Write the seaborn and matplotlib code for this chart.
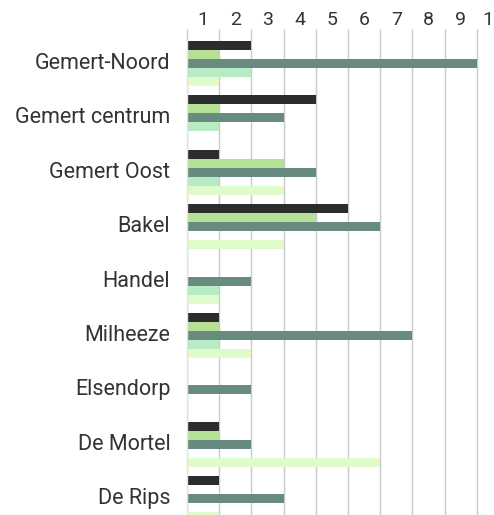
import matplotlib
matplotlib.use("Agg")
import matplotlib.pyplot as plt
import matplotlib.transforms as mtransforms
import seaborn as sns
import pandas as pd

categories = ["Gemert-Noord", "Gemert centrum", "Gemert Oost", "Bakel", "Handel",
              "Milheeze", "Elsendorp", "De Mortel", "De Rips"]
series_names = ["Reeks 1", "Reeks 2", "Reeks 3", "Reeks 4", "Reeks 5"]
reeks1 = [2, 4, 1, 5, 0, 1, 0, 1, 1]
reeks2 = [1, 1, 3, 4, 0, 1, 0, 1, 0]
reeks3 = [9, 3, 4, 6, 2, 7, 2, 2, 3]
reeks4 = [2, 1, 1, 0, 1, 1, 0, 0, 0]
reeks5 = [1, 0, 3, 3, 1, 2, 0, 6, 1]
tick_values = [1, 2, 3, 4, 5, 6, 7, 8, 9, 10]
tick_labels = ["1", "2", "3", "4", "5", "6", "7", "8", "9", "10"]
colors = ["#2b2d2c", "#b6e096", "#678b7e", "#b6ebc3", "#e0fbcb"]

rows = []
for name, vals in zip(series_names, [reeks1, reeks2, reeks3, reeks4, reeks5]):
    for c, v in zip(categories, vals):
        rows.append({"wijk": c, "reeks": name, "waarde": v})
df = pd.DataFrame(rows)

sns.set_style("white")
plt.rcParams["font.family"] = ["Roboto", "DejaVu Sans"]

W, H = 494, 515
fig = plt.figure(figsize=(W / 100, H / 100), dpi=100)
top_px, pitch = 40, 54.4
ytop = -0.432
ybot = 8.6
ax_h = (ybot - ytop) * pitch
left_px, unit = 187, 32.2
ax = fig.add_axes([left_px / W, 1 - (top_px + ax_h) / H, 10 * unit / W, ax_h / H])

sns.barplot(data=df, y="wijk", x="waarde", hue="reeks", order=categories,
            hue_order=series_names, palette=colors, orient="h", width=0.83,
            linewidth=0, saturation=1, legend=False, ax=ax, errorbar=None)

ax.set_xlim(0, 10)
ax.set_ylim(ybot, ytop)
ax.set_xlabel("")
ax.set_ylabel("")

gridc = "#c9c9c9"
ax.set_xticks([0] + tick_values)
ax.set_xticklabels([])
ax.set_xticks([v - 0.5 for v in tick_values], minor=True)
ax.set_xticklabels(tick_labels, minor=True)
ax.xaxis.tick_top()
ax.tick_params(axis="x", which="major", length=8, color=gridc, width=1, top=True, bottom=False)
ax.tick_params(axis="x", which="minor", length=0, pad=7.7, labelsize=14, labelcolor="#333333",
               top=True, bottom=False, labeltop=True, labelbottom=False)
ax.grid(axis="x", which="major", color=gridc, linewidth=1)
ax.set_axisbelow(True)
ax.tick_params(axis="y", length=0, pad=12, labelsize=15.5, labelcolor="#333333")
shift = mtransforms.ScaledTranslation(0, 2.5 / 100, fig.dpi_scale_trans)
for lab in ax.get_yticklabels():
    lab.set_transform(lab.get_transform() + shift)
for s in ["top", "right", "bottom"]:
    ax.spines[s].set_visible(False)
ax.spines["left"].set_color("#e3e3e3")
ax.spines["left"].set_linewidth(1)

fig.savefig("out.png", dpi=100)
